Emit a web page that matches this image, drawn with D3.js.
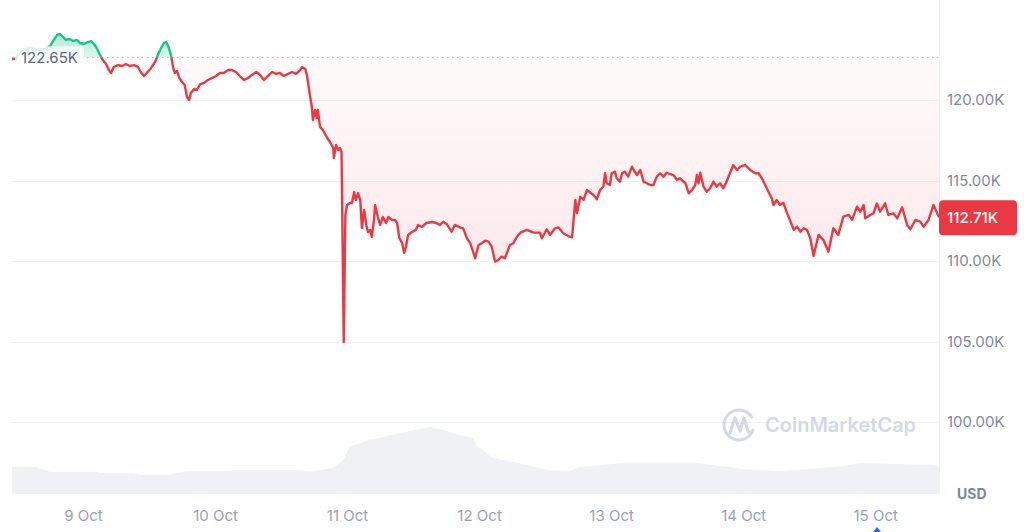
<!DOCTYPE html>
<html>
<head>
<meta charset="utf-8">
<script src="https://cdn.jsdelivr.net/npm/d3@7"></script>
<style>
  html, body { margin: 0; padding: 0; background: #fff; }
  svg { display: block; font-family: Inter, "Noto Sans", sans-serif; }
</style>
</head>
<body>
<svg id="chart" width="1024" height="532"></svg>
<script>
// ---- data (hours since 8 Oct 00:00 UTC, price in thousands USD) ----
const hours = [11.1,11.8,12.9,14.4,15.8,17.1,18.0,18.7,19.3,19.8,20.4,20.9,21.6,22.2,22.9,23.5,24.2,24.9,25.5,26.0,26.5,27.1,27.6,28.2,28.7,29.1,29.6,30.4,31.1,31.8,32.5,33.3,34.0,34.5,35.1,35.6,36.4,37.1,37.6,38.2,38.7,39.1,39.5,40.0,40.4,40.7,41.1,41.5,42.0,42.5,42.9,43.3,43.6,44.2,44.7,45.3,46.0,46.7,47.5,48.2,48.9,49.6,50.4,51.1,51.8,52.5,53.3,54.0,54.7,55.5,56.2,56.9,57.6,58.4,59.1,59.8,60.5,61.3,62.0,62.7,63.5,63.8,64.4,64.7,
65.3,65.6,65.8,66.2,66.5,66.7,67.1,67.6,68.4,68.9,69.5,69.6,70.0,70.4,70.7,71.0,71.4,71.7,72.0,72.5,72.9,73.3,73.6,74.0,74.4,74.7,75.1,75.5,75.8,76.2,76.5,76.9,77.1,77.6,78.0,78.5,79.1,79.5,80.2,80.7,81.1,81.5,82.0,82.4,82.7,83.1,83.8,84.5,84.9,85.6,86.4,87.5,88.2,
88.9,89.5,90.1,91.0,91.6,92.5,93.1,93.8,94.4,95.3,95.9,96.5,97.1,97.7,98.3,98.9,99.5,100.1,100.7,101.6,102.2,102.9,103.5,104.7,105.9,107.1,107.4,108.3,108.9,109.8,110.4,111.3,112.2,112.9,113.5,113.8,114.4,115.0,115.6,116.8,117.4,118.0,118.6,118.9,119.2,119.8,120.1,120.7,121.0,121.6,122.0,122.5,123.1,123.8,124.1,124.7,125.3,125.9,126.5,127.1,127.7,128.3,128.9,129.5,130.1,131.3,132.0,132.5,133.5,134.1,134.7,135.3,135.6,135.9,136.2,136.8,137.4,138.0,138.6,139.2,139.8,140.4,141.0,141.6,142.2,142.9,143.5,144.4,145.3,146.2,146.8,147.4,148.0,148.6,149.2,149.5,150.1,150.7,151.3,152.0,152.5,153.2,153.8,154.4,155.0,155.6,156.2,156.8,157.7,158.6,159.5,160.4,161.3,162.2,163.2,163.8,164.7,165.3,165.9,166.2,167.1,167.7,168.3,168.9,169.8,170.4,171.3,172.0,172.9,173.8,174.4,175.3,176.2,176.8,177.7,178.6,179.6];
const prices = [122.52,122.58,123.11,123.23,123.11,123.17,123.35,123.73,124.04,124.10,123.91,123.73,123.79,123.66,123.73,123.54,123.48,123.60,123.66,123.48,123.23,122.80,122.48,122.24,121.86,121.68,122.05,122.17,122.11,122.24,122.11,122.17,122.05,121.74,121.49,121.68,121.99,122.36,122.80,123.23,123.54,123.60,123.35,122.80,121.99,121.68,121.80,121.37,121.12,120.93,120.19,120.00,120.43,120.68,120.62,120.99,121.06,121.24,121.37,121.49,121.68,121.68,121.86,121.86,121.74,121.49,121.24,121.37,121.55,121.74,121.55,121.24,121.49,121.74,121.62,121.68,121.49,121.62,121.74,121.62,121.86,122.05,121.93,121.55,
120.19,119.57,118.76,119.38,118.88,119.38,118.32,118.14,117.64,117.39,117.02,116.40,117.21,116.89,117.02,116.77,104.97,112.86,113.48,113.60,113.60,114.29,113.79,114.22,113.79,112.05,113.17,112.24,111.80,111.93,111.49,112.55,113.48,112.73,112.24,112.73,112.36,112.73,112.55,112.55,112.36,111.43,111.12,110.50,110.87,111.62,111.80,111.93,112.24,112.11,112.36,112.42,112.36,
112.24,112.44,112.30,111.82,112.24,112.09,112.03,111.41,111.10,110.17,110.99,111.10,111.26,111.20,110.89,109.96,110.06,110.27,110.17,110.99,111.10,111.51,111.76,111.93,111.76,111.76,111.41,111.97,111.62,112.03,112.09,111.72,111.55,111.47,113.79,112.96,113.99,113.79,114.41,114.10,113.83,114.41,114.62,115.45,114.83,114.72,115.45,115.55,115.14,114.93,115.45,115.55,115.24,115.86,115.65,115.34,115.65,114.93,114.83,114.72,114.72,115.24,115.45,115.24,115.48,115.34,115.03,115.14,114.83,114.21,114.41,114.72,115.34,114.83,115.48,114.62,114.30,114.52,114.93,114.62,114.83,114.52,114.93,115.45,115.96,115.65,115.86,115.96,115.65,115.45,115.45,115.14,114.72,114.30,113.89,113.48,113.79,113.48,113.62,112.96,112.55,111.93,112.13,111.82,112.03,111.93,111.41,110.31,111.62,111.30,110.58,112.03,111.62,112.75,112.86,112.55,113.37,113.06,113.48,112.65,112.86,112.96,113.58,113.06,113.58,112.86,112.96,112.65,113.34,112.24,111.97,112.55,112.44,112.13,112.55,113.48,112.71];

// volume (billions USD) at hours since 8 Oct 00:00 UTC
const volHours = [11.1,15.6,18.0,26.5,27.1,33.1,34.4,39.3,42.9,50.2,51.3,63.5,65.3,69.4,71.3,72.5,75.6,81.6,87.1,89.5,92.5,94.9,95.8,98.5,104.7,108.4,112.5,114.4,122.9,134.9,138.5,144.0,150.2,156.2,162.2,165.3,178.5,179.6];
const volumes = [45.5,45,37.2,37.2,34.5,34.5,31.7,31.7,38.3,38.3,40,40,37.2,43.3,56.7,78.8,88.8,101.7,111.7,106.7,98.3,93.3,78.8,60,48.3,40,38.3,45.5,52.2,52.2,48.3,41.7,38.3,41.7,46.7,51.7,48.3,45.5];

const openPrice = 122.65;
const lastPrice = 112.71;
const priceTicks = [100, 105, 110, 115, 120];
const dayHours = [24, 48, 72, 96, 120, 144, 168];
const dayLabels = ["9 Oct", "10 Oct", "11 Oct", "12 Oct", "13 Oct", "14 Oct", "15 Oct"];

// ---- setup ----
const baseTime = Date.UTC(2025, 9, 8);
const toDate = h => new Date(baseTime + h * 3600e3);
const RED = "#ea3943", GREEN = "#16c784";

const svg = d3.select("#chart");
const left = 12, right = 939, plotBottom = 494;

const x = d3.scaleUtc().domain([toDate(hours[0]), toDate(hours[hours.length - 1])]).range([left, right]);
const y = d3.scaleLinear().domain([100, 120]).range([422, 100]);
const yVol = d3.scaleLinear().domain([0, 120]).range([plotBottom, 422]);
const yBase = y(openPrice);

const pts = hours.map((h, i) => ({ t: toDate(h), v: prices[i] }));
const vpts = volHours.map((h, i) => ({ t: toDate(h), v: volumes[i] }));

const defs = svg.append("defs");
defs.append("clipPath").attr("id", "clipAbove")
  .append("rect").attr("x", 0).attr("y", 0).attr("width", 1024).attr("height", yBase);
defs.append("clipPath").attr("id", "clipBelow")
  .append("rect").attr("x", 0).attr("y", yBase).attr("width", 1024).attr("height", 532 - yBase);

const rg = defs.append("linearGradient").attr("id", "redGrad")
  .attr("gradientUnits", "userSpaceOnUse").attr("x1", 0).attr("x2", 0)
  .attr("y1", yBase).attr("y2", y(110));
rg.append("stop").attr("offset", 0).attr("stop-color", RED).attr("stop-opacity", 0.02);
rg.append("stop").attr("offset", 1).attr("stop-color", RED).attr("stop-opacity", 0.11);

const gg = defs.append("linearGradient").attr("id", "greenGrad")
  .attr("gradientUnits", "userSpaceOnUse").attr("x1", 0).attr("x2", 0)
  .attr("y1", y(124.2)).attr("y2", yBase);
gg.append("stop").attr("offset", 0).attr("stop-color", GREEN).attr("stop-opacity", 0.35);
gg.append("stop").attr("offset", 1).attr("stop-color", GREEN).attr("stop-opacity", 0.15);

// grid
svg.append("g").selectAll("line").data(priceTicks).join("line")
  .attr("x1", left).attr("x2", right)
  .attr("y1", d => Math.round(y(d)) + 0.5).attr("y2", d => Math.round(y(d)) + 0.5)
  .attr("stroke", "#eff2f5").attr("stroke-width", 1);

// right border
svg.append("line").attr("x1", right + 0.5).attr("x2", right + 0.5)
  .attr("y1", 0).attr("y2", plotBottom).attr("stroke", "#eff2f5");

// volume
svg.append("path").datum(vpts)
  .attr("d", d3.area().x(d => x(d.t)).y0(plotBottom).y1(d => yVol(d.v)))
  .attr("fill", "#eff1f5");

// watermark
const wm = svg.append("g").attr("transform", "translate(739,425)");
wm.append("path")
  .attr("d", d3.arc()({ innerRadius: 13.5, outerRadius: 16.5, startAngle: Math.PI * 0.62, endAngle: Math.PI * 2.35 }))
  .attr("fill", "#d3d9e5");
wm.append("path")
  .attr("d", "M-9,8 L-4,-7 L1,6 L5,-7 L9,6 Q11,10 14,5")
  .attr("fill", "none").attr("stroke", "#d3d9e5").attr("stroke-width", 3.2)
  .attr("stroke-linejoin", "round").attr("stroke-linecap", "round");
svg.append("text").attr("x", 765).attr("y", 432)
  .attr("font-size", 20).attr("font-weight", 600).attr("fill", "#d3d9e5")
  .text("CoinMarketCap");

// baseline dotted
svg.append("line").attr("x1", left).attr("x2", right)
  .attr("y1", yBase).attr("y2", yBase)
  .attr("stroke", "#a6b0c3").attr("stroke-width", 1).attr("stroke-dasharray", "1.5,3.5");

// areas
const area = d3.area().x(d => x(d.t)).y0(yBase).y1(d => y(d.v));
svg.append("path").datum(pts).attr("d", area).attr("fill", "url(#greenGrad)").attr("clip-path", "url(#clipAbove)");
svg.append("path").datum(pts).attr("d", area).attr("fill", "url(#redGrad)").attr("clip-path", "url(#clipBelow)");

// lines
const line = d3.line().x(d => x(d.t)).y(d => y(d.v));
svg.append("path").datum(pts).attr("d", line).attr("fill", "none").attr("stroke", GREEN)
  .attr("stroke-width", 2.4).attr("stroke-linejoin", "round").attr("clip-path", "url(#clipAbove)");
svg.append("path").datum(pts).attr("d", line).attr("fill", "none").attr("stroke", RED)
  .attr("stroke-width", 2.4).attr("stroke-linejoin", "round").attr("clip-path", "url(#clipBelow)");

// open price label
svg.append("rect").attr("x", 15).attr("y", yBase - 11).attr("width", 69).attr("height", 22)
  .attr("fill", "#fff").attr("fill-opacity", 0.8);
svg.append("text").attr("x", 21).attr("y", yBase).attr("dy", "0.35em")
  .attr("font-size", 15).attr("fill", "#58667e").text(d3.format(".2f")(openPrice) + "K");

// y axis
const yAxis = svg.append("g").attr("transform", `translate(${right},0)`)
  .call(d3.axisRight(y).tickValues(priceTicks).tickSize(0).tickPadding(8)
    .tickFormat(d => d3.format(".2f")(d) + "K"));
yAxis.select(".domain").remove();
yAxis.selectAll("text").attr("font-size", 15).attr("fill", "#808a9d").attr("font-family", "Inter, sans-serif");

// last price tag
svg.append("rect").attr("x", right).attr("y", y(lastPrice) - 17).attr("width", 78).attr("height", 35)
  .attr("rx", 4).attr("fill", RED);
svg.append("text").attr("x", 947).attr("y", y(lastPrice)).attr("dy", "0.35em")
  .attr("font-size", 15).attr("font-weight", 500).attr("fill", "#fff").text(d3.format(".2f")(lastPrice) + "K");

// x axis
const xAxis = svg.append("g").attr("transform", `translate(0,${plotBottom})`)
  .call(d3.axisBottom(x).tickValues(dayHours.map(toDate)).tickSize(0).tickPadding(16)
    .tickFormat((d, i) => dayLabels[i]));
xAxis.select(".domain").remove();
xAxis.selectAll("text").attr("font-size", 15).attr("fill", "#9aa2b5").attr("font-family", "Inter, sans-serif");

// USD label
svg.append("text").attr("x", 957).attr("y", 499).attr("font-size", 14).attr("font-weight", 700)
  .attr("fill", "#7d879b").text("USD");

// small marker
svg.append("path").attr("d", "M873,532 L877,527 L881,532 Z").attr("fill", "#3861fb");
</script>
</body>
</html>
